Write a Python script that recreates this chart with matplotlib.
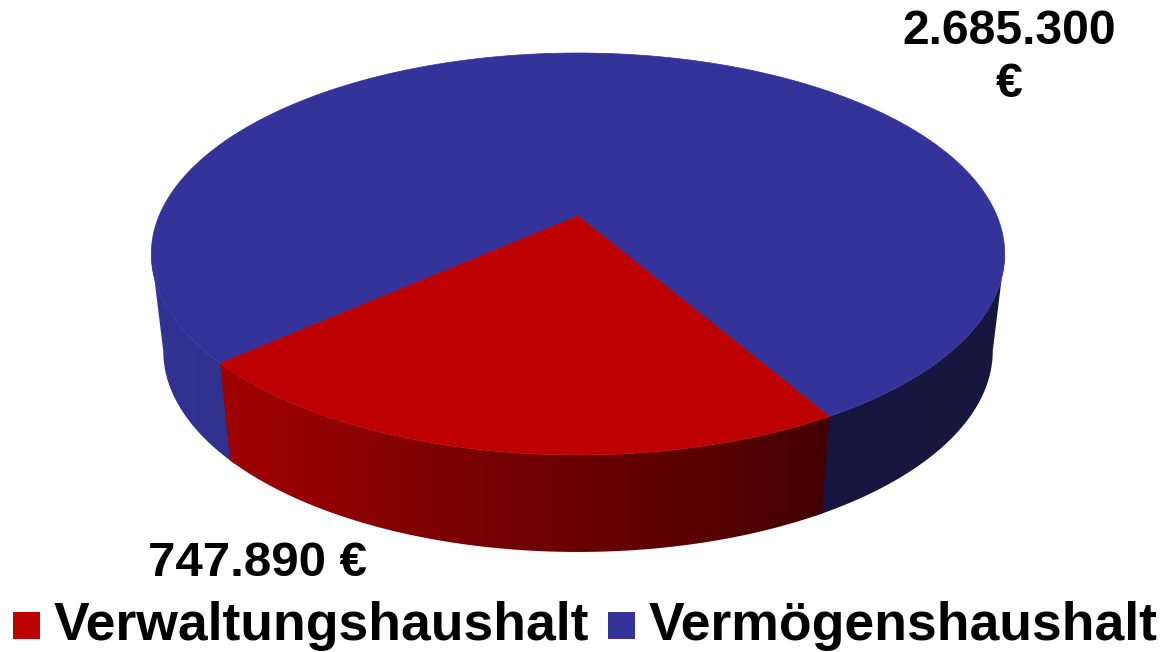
"""
Flat 3D style pie chart of the municipal budget, drawn with a small
perspective projection on a pixel sized axes.
"""

import numpy as np
import matplotlib
matplotlib.use("Agg")
import matplotlib.pyplot as plt
from matplotlib.colors import LinearSegmentedColormap
from matplotlib.patches import Polygon, Rectangle

categories = ["Verwaltungshaushalt", "Vermögenshaushalt"]
values = [747890, 2685300]
value_labels = ["747.890 €", "2.685.300\n€"]

TOP_RED = "#bd0000"
TOP_BLUE = "#333399"
TILT = 0.189

plt.rcParams["font.family"] = ["Liberation Sans", "DejaVu Sans"]


def project(theta, radius=1.0, bottom=False):
    """Project a point of the unit disc to picture pixels (theta 0 = front)."""
    u = radius * np.sin(theta)
    v = radius * np.cos(theta)
    w = 1 - TILT * v
    x = 419 * u / w
    y = 216 + 193.8 * v / w
    if bottom:
        return 578 + 0.972 * x, y + 97
    return 578 + x, y


def draw_side(ax, start, end, stops):
    """Draw the wall between two angles, shaded from left to right."""
    angles = np.linspace(start, end, 300)
    top_x, top_y = project(angles)
    low_x, low_y = project(angles, bottom=True)
    pts = np.column_stack([np.r_[top_x, low_x[::-1]], np.r_[top_y, low_y[::-1]]])
    outline = Polygon(pts, closed=True, facecolor="none", edgecolor="none", transform=ax.transData)
    ax.add_patch(outline)

    # the stops must reach past the wall on both sides
    left, right = stops[0][0], stops[-1][0]
    cmap = LinearSegmentedColormap.from_list(
        "side", [((x - left) / (right - left), c) for x, c in stops])
    gradient = np.linspace(0, 1, 512).reshape(1, -1)
    img = ax.imshow(gradient, cmap=cmap, aspect="auto", interpolation="bilinear",
                    extent=(left, right, pts[:, 1].max(), pts[:, 1].min()))
    img.set_clip_path(outline)


def draw_top(ax, start, end, colour):
    """Draw one wedge of the top face."""
    angles = np.linspace(start, end, 400)
    xs, ys = project(angles)
    cx, cy = project(0.0, radius=0.0)
    pts = np.column_stack([np.r_[cx, xs], np.r_[cy, ys]])
    ax.add_patch(Polygon(pts, closed=True, facecolor=colour, edgecolor=colour, linewidth=0.5))


def plot():
    fig = plt.figure(figsize=(11.63, 6.52), dpi=100)
    ax = fig.add_axes([0, 0, 1, 1])

    # wedge angles come from the values, the red one ends 30 degrees right of front
    sweep = 2 * np.pi * values[0] / sum(values)
    red_end = np.radians(30.1)
    red_start = red_end - sweep

    # blue wall is seen up to the tangent of the outline, and runs a little under the red one
    tangent = np.arccos(TILT)
    overlap = 0.02
    draw_side(ax, red_end - overlap, tangent, [(800, "#15153f"), (1012, "#17173f")])
    draw_side(ax, -tangent, red_start + overlap, [(145, "#333396"), (250, "#2f2f8a")])
    draw_side(ax, red_start, red_end,
              [(215, "#a00000"), (300, "#960000"), (420, "#800000"),
               (560, "#6c0000"), (700, "#5a0000"), (835, "#420000")])

    draw_top(ax, red_end, red_start + 2 * np.pi, TOP_BLUE)
    draw_top(ax, red_start, red_end, TOP_RED)

    # value labels
    ax.text(258, 563, value_labels[0], fontsize=35.5, fontweight="bold", ha="center", va="center", color="black")
    ax.text(1009, 58, value_labels[1], fontsize=34.6, fontweight="bold", ha="center", va="center",
            color="black", linespacing=1.25)

    # legend
    ax.add_patch(Rectangle((13, 612), 27, 27, facecolor=TOP_RED, edgecolor="none"))
    ax.add_patch(Rectangle((608, 612), 27, 27, facecolor=TOP_BLUE, edgecolor="none"))
    ax.text(54, 640, categories[0], fontsize=38.5, fontweight="bold", ha="left", va="baseline", color="black")
    ax.text(649, 640, categories[1], fontsize=38.5, fontweight="bold", ha="left", va="baseline", color="black")

    ax.set_xlim(0, 1163)
    ax.set_ylim(652, 0)
    ax.axis("off")

    fig.savefig("out.png", dpi=100)


plot()
